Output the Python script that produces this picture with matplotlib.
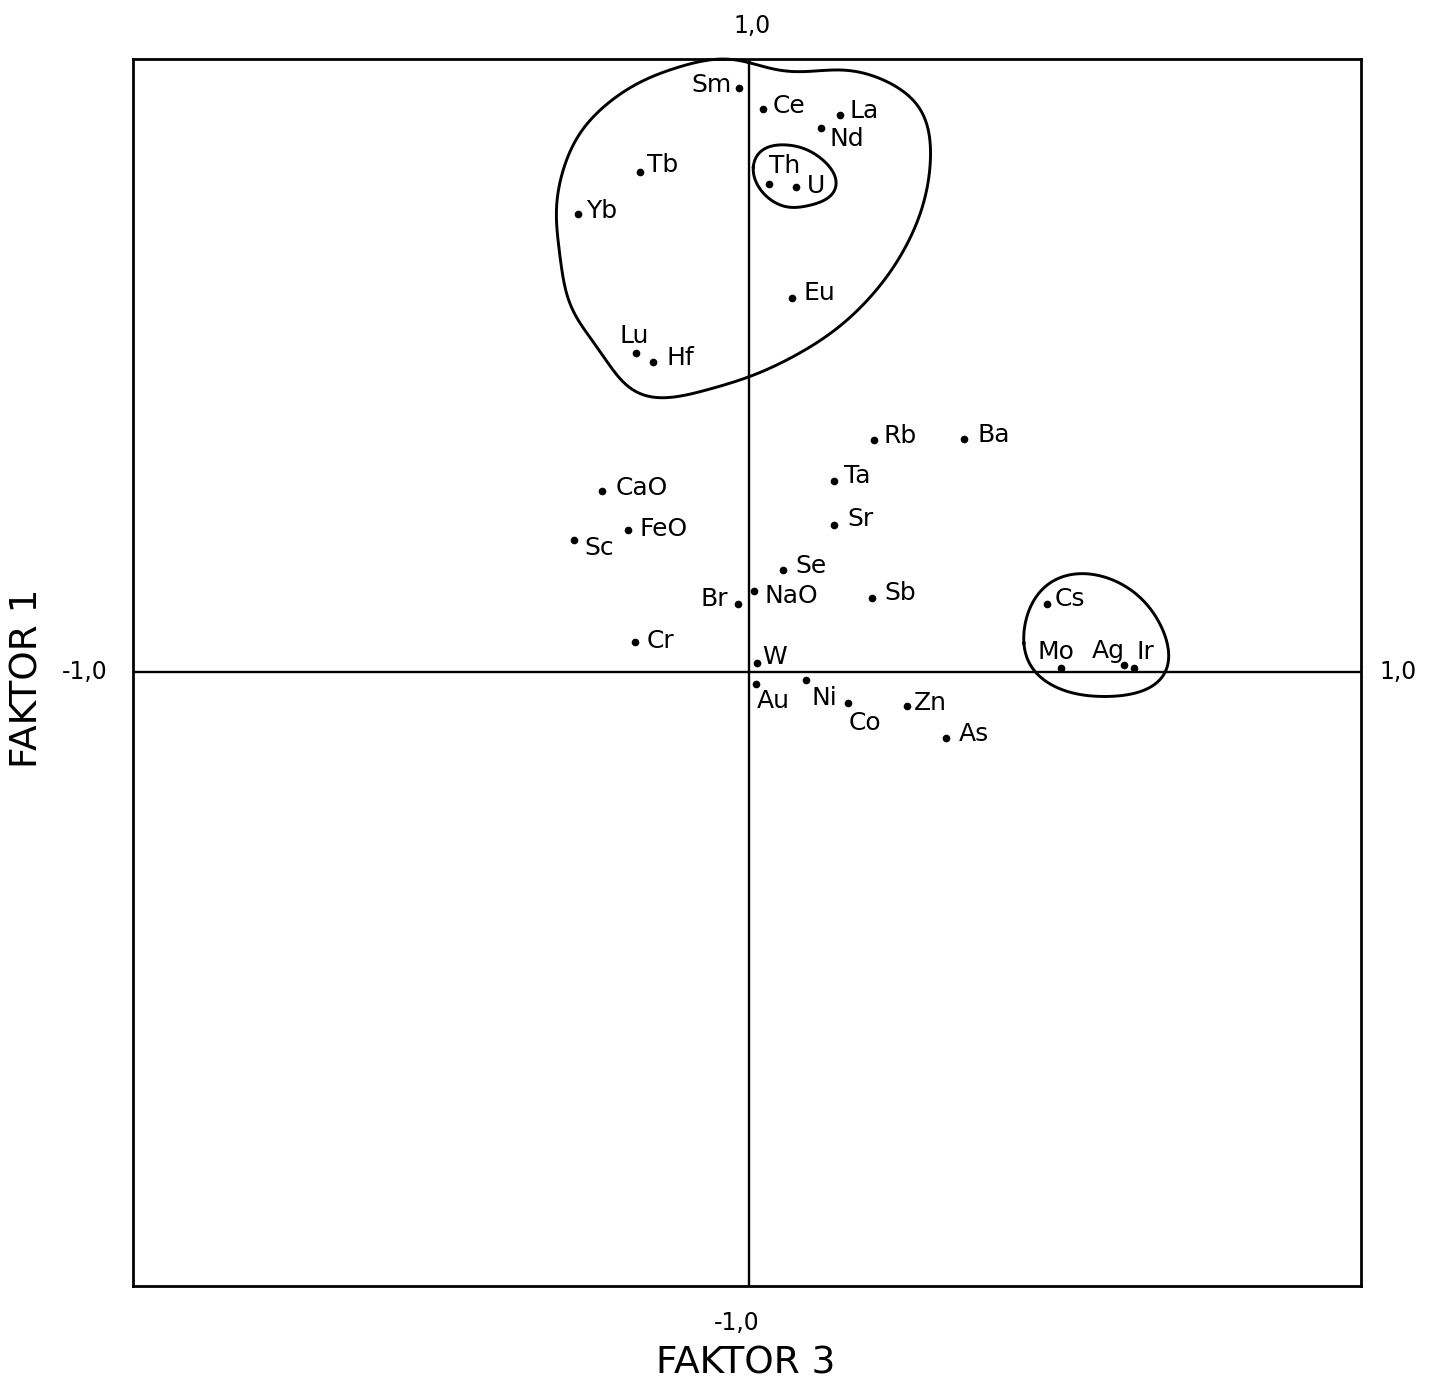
import matplotlib
matplotlib.use("Agg")
import matplotlib.pyplot as plt
import numpy as np

# element loadings: factor 3 (x) and factor 1 (y)
elements = ["Sm", "Ce", "La", "Nd", "Tb", "Th", "U", "Yb", "Eu", "Lu", "Hf",
            "Rb", "Ba", "Ta", "CaO", "Sr", "FeO", "Sc", "Se", "NaO", "Br", "Sb",
            "Cr", "W", "Au", "Ni", "Co", "Zn", "As", "Cs", "Mo", "Ag", "Ir"]
faktor3 = [-0.013, 0.026, 0.151, 0.120, -0.175, 0.036, 0.079, -0.276, 0.074, -0.180, -0.153,
           0.206, 0.354, 0.141, -0.236, 0.141, -0.194, -0.282, 0.059, 0.012, -0.014, 0.203,
           -0.182, 0.017, 0.014, 0.096, 0.165, 0.261, 0.324, 0.489, 0.511, 0.614, 0.631]
faktor1 = [0.953, 0.918, 0.908, 0.887, 0.815, 0.796, 0.791, 0.747, 0.610, 0.520, 0.506,
           0.379, 0.381, 0.312, 0.296, 0.240, 0.232, 0.216, 0.167, 0.132, 0.111, 0.122,
           0.049, 0.015, -0.019, -0.013, -0.050, -0.055, -0.106, 0.111, 0.008, 0.012, 0.008]

# label offsets from the dot (pixels, x right / y up), text centred on baseline
label_off = {
    "Sm": (-28, -4), "Ce": (26, -4), "La": (24, -3), "Nd": (26, -18), "Tb": (23, 0),
    "Th": (15, 11), "U": (20, -6), "Yb": (24, -4), "Eu": (27, -2), "Lu": (-2, 10),
    "Hf": (27, -3), "Rb": (27, -3), "Ba": (29, -3), "Ta": (24, -2), "CaO": (40, -4),
    "Sr": (27, -1), "FeO": (36, -6), "Sc": (25, -15), "Se": (28, -3), "NaO": (37, -12),
    "Br": (-24, -2), "Sb": (29, -2), "Cr": (25, -6), "W": (17, -1), "Au": (18, -24),
    "Ni": (18, -25), "Co": (17, -27), "Zn": (23, -4), "As": (28, -3), "Cs": (23, -2),
    "Mo": (-5, 9), "Ag": (-16, 7), "Ir": (11, 9),
}

# hand-drawn group outlines (data units)
blob_big = [(0.005, 0.998), (0.016, 0.990), (0.037, 0.983), (0.070, 0.979), (0.124, 0.982),
            (0.179, 0.979), (0.233, 0.960), (0.276, 0.928), (0.295, 0.884), (0.298, 0.835),
            (0.293, 0.786), (0.276, 0.732), (0.249, 0.678), (0.211, 0.623), (0.168, 0.580),
            (0.114, 0.537), (0.043, 0.499), (-0.011, 0.477), (-0.066, 0.460), (-0.120, 0.450),
            (-0.163, 0.450), (-0.201, 0.471), (-0.228, 0.509), (-0.256, 0.547), (-0.283, 0.585),
            (-0.296, 0.634), (-0.307, 0.689), (-0.310, 0.732), (-0.307, 0.786), (-0.294, 0.835),
            (-0.272, 0.879), (-0.239, 0.917), (-0.196, 0.949), (-0.142, 0.977), (-0.087, 0.993),
            (-0.033, 0.999)]
blob_thu = [(0.011, 0.824), (0.021, 0.849), (0.054, 0.860), (0.092, 0.854), (0.124, 0.835),
            (0.145, 0.803), (0.135, 0.776), (0.092, 0.759), (0.054, 0.762), (0.027, 0.781),
            (0.013, 0.803)]
blob_cs = [(0.451, 0.048), (0.466, 0.118), (0.521, 0.159), (0.575, 0.156), (0.640, 0.124),
           (0.686, 0.042), (0.667, -0.018), (0.591, -0.039), (0.521, -0.031), (0.472, -0.001),
           (0.456, 0.020)]


def closed_spline(pts, harmonics, n=30):
    # closed Catmull-Rom curve through the points, then low-pass smoothed
    p = np.array(pts)
    k = len(p)
    out = []
    t = np.linspace(0, 1, n, endpoint=False)[:, None]
    for i in range(k):
        p0, p1, p2, p3 = p[(i - 1) % k], p[i], p[(i + 1) % k], p[(i + 2) % k]
        seg = 0.5 * ((2 * p1) + (-p0 + p2) * t + (2 * p0 - 5 * p1 + 4 * p2 - p3) * t ** 2
                     + (-p0 + 3 * p1 - 3 * p2 + p3) * t ** 3)
        out.append(seg)
    out = np.vstack(out)
    # resample by arc length
    d = np.r_[0, np.cumsum(np.hypot(*np.diff(np.vstack([out, out[:1]]), axis=0).T))]
    s = np.linspace(0, d[-1], 512, endpoint=False)
    closed = np.vstack([out, out[:1]])
    z = np.interp(s, d, closed[:, 0]) + 1j * np.interp(s, d, closed[:, 1])
    f = np.fft.fft(z)
    f[harmonics + 1:-harmonics] = 0
    z = np.fft.ifft(f)
    z = np.r_[z, z[:1]]
    return z.real, z.imag


plt.rcParams['font.family'] = ['DejaVu Sans']
fig = plt.figure(figsize=(14.33, 13.87), dpi=100)
ax = fig.add_axes([0.0928, 0.0728, 0.857, 0.8847])
ax.set_xlim(-1, 1)
ax.set_ylim(-1, 1)
ax.set_xticks([])
ax.set_yticks([])
for s in ax.spines.values():
    s.set_linewidth(2.0)

ax.axhline(0, color='black', lw=1.7)
ax.axvline(0.004, color='black', lw=1.7)

ax.plot(faktor3, faktor1, 'o', color='black', ms=4.5, ls='none')
for name, x, y in zip(elements, faktor3, faktor1):
    dx, dy = label_off[name]
    ax.annotate(name, (x, y), xytext=(dx, dy), textcoords='offset pixels',
                ha='center', va='baseline', fontsize=18)

for blob, h in ((blob_big, 12), (blob_thu, 5), (blob_cs, 5)):
    bx, by = closed_spline(blob, h)
    ax.plot(bx, by, color='black', lw=2.1, clip_on=False)

ax.text(0.504, 1.027, "1,0", transform=ax.transAxes, ha='center', va='center', fontsize=17)
ax.text(0.492, -0.030, "-1,0", transform=ax.transAxes, ha='center', va='center', fontsize=17)
ax.text(-0.039, 0.5, "-1,0", transform=ax.transAxes, ha='center', va='center', fontsize=17)
ax.text(1.030, 0.5, "1,0", transform=ax.transAxes, ha='center', va='center', fontsize=17)
ax.text(0.499, -0.063, "FAKTOR 3", transform=ax.transAxes, ha='center', va='center', fontsize=27)
ax.text(-0.086, 0.495, "FAKTOR 1", transform=ax.transAxes, ha='center', va='center',
        fontsize=27, rotation=90)

fig.savefig("out.png", dpi=100)
